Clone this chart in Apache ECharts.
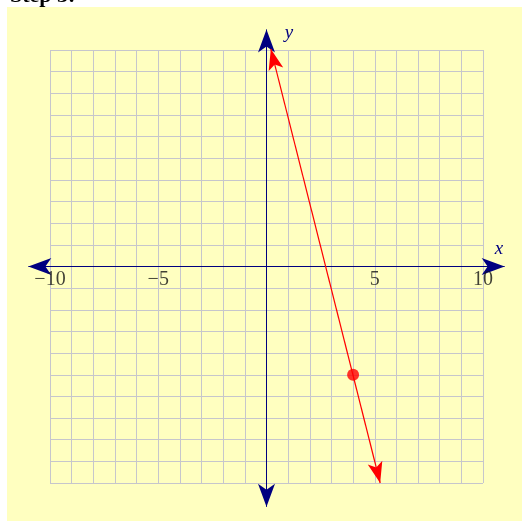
<!DOCTYPE html>
<html>
<head>
<meta charset="utf-8">
<script src="https://cdn.jsdelivr.net/npm/echarts@6/dist/echarts.min.js"></script>
<style>
  html, body { margin: 0; padding: 0; background: #fff; }
  #chart { width: 522px; height: 521px; }
</style>
</head>
<body>
<div id="chart"></div>
<script>
// axis range and the ticks that get a label
var axisMin = -10;
var axisMax = 10;
var xTickLabels = [-10, -5, 5, 10];

// axes drawn as double arrows reaching past the grid: [x1, y1, x2, y2]
var axisArrows = [
  [-11, 0, 11, 0],
  [0, -11.1, 0, 10.95]
];

// red line y = -4x + 11 (end points) and the point plotted on it
var redLine = [[0.2, 10.05, 5.25, -10]];
var redPoints = [[4, -5]];

/**
 * points of an arrow head whose tip sits at `tip`, pointing along (ux, uy)
 */
function arrowHead(tip, ux, uy, len, wid, notch) {
  var nx = -uy, ny = ux;
  return [
    [tip[0], tip[1]],
    [tip[0] - ux * len + nx * wid / 2, tip[1] - uy * len + ny * wid / 2],
    [tip[0] - ux * (len - notch), tip[1] - uy * (len - notch)],
    [tip[0] - ux * len - nx * wid / 2, tip[1] - uy * len - ny * wid / 2]
  ];
}

/**
 * custom series: segment with an arrow head on both ends
 */
function arrowSeries(rows, color, lineWidth, len, wid, notch) {
  return {
    type: 'custom',
    silent: true,
    animation: false,
    data: rows,
    renderItem: function (params, api) {
      var p1 = api.coord([api.value(0), api.value(1)]);
      var p2 = api.coord([api.value(2), api.value(3)]);
      var dx = p2[0] - p1[0], dy = p2[1] - p1[1];
      var d = Math.sqrt(dx * dx + dy * dy);
      var ux = dx / d, uy = dy / d;
      return {
        type: 'group',
        children: [
          {
            type: 'line',
            shape: { x1: p1[0], y1: p1[1], x2: p2[0], y2: p2[1] },
            style: { stroke: color, lineWidth: lineWidth }
          },
          {
            type: 'polygon',
            shape: { points: arrowHead(p2, ux, uy, len, wid, notch) },
            style: { fill: color }
          },
          {
            type: 'polygon',
            shape: { points: arrowHead(p1, -ux, -uy, len, wid, notch) },
            style: { fill: color }
          }
        ]
      };
    }
  };
}

var myChart = echarts.init(document.getElementById('chart'));

var gridLine = { show: true, lineStyle: { color: '#c6c6cc', width: 1 } };

var option = {
  backgroundColor: '#ffffc0',
  animation: false,
  grid: { left: 50, right: 39, top: 50, bottom: 38, containLabel: false },
  xAxis: {
    type: 'value',
    min: axisMin,
    max: axisMax,
    interval: 1,
    axisLine: { show: false },
    axisTick: { show: false },
    axisLabel: { show: false },
    splitLine: gridLine
  },
  yAxis: {
    type: 'value',
    min: axisMin,
    max: axisMax,
    interval: 1,
    axisLine: { show: false },
    axisTick: { show: false },
    axisLabel: { show: false },
    splitLine: gridLine
  },
  graphic: [
    { type: 'rect', shape: { x: 0, y: 0, width: 522, height: 7 }, style: { fill: '#fff' } },
    { type: 'rect', shape: { x: 0, y: 0, width: 7, height: 521 }, style: { fill: '#fff' } },
    {
      type: 'text', x: 10, y: 7,
      style: { text: 'Step 3:', font: 'bold 22px "Liberation Serif"', fill: '#000', verticalAlign: 'bottom' }
    },
    {
      type: 'text', x: 499, y: 249,
      style: { text: 'x', font: 'italic 19px "Liberation Serif"', fill: '#000080', align: 'center', verticalAlign: 'middle' }
    },
    {
      type: 'text', x: 289, y: 33,
      style: { text: 'y', font: 'italic 19px "Liberation Serif"', fill: '#000080', align: 'center', verticalAlign: 'middle' }
    }
  ],
  series: [
    arrowSeries(axisArrows, '#000080', 1, 23, 17, 6),
    arrowSeries(redLine, '#ff0000', 1.2, 21, 15, 5),
    {
      type: 'scatter',
      data: redPoints,
      symbol: 'circle',
      symbolSize: 12,
      itemStyle: { color: '#ff0000' },
      silent: true
    },
    // tick labels hang under the x axis line (y = 0)
    {
      type: 'scatter',
      data: xTickLabels.map(function (v) { return [v, 0]; }),
      symbolSize: 0,
      silent: true,
      label: {
        show: true,
        position: 'bottom',
        distance: 3,
        color: '#111',
        fontFamily: 'Liberation Serif',
        fontSize: 20,
        formatter: function (p) {
          return String(p.value[0]).replace('-', '\u2212');
        }
      }
    }
  ]
};

myChart.setOption(option);
</script>
</body>
</html>
